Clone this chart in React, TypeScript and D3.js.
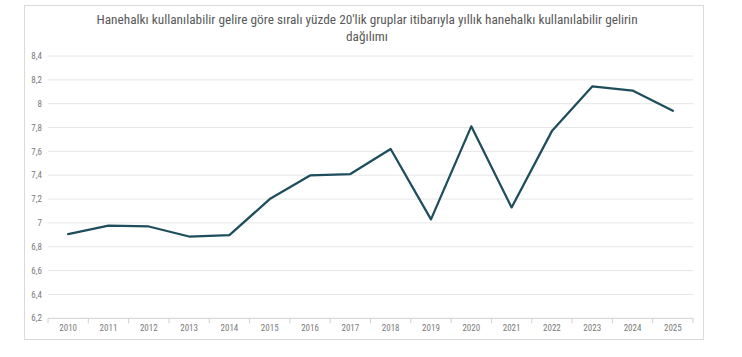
import React from "react";
import * as d3 from "d3";

const years = ["2010","2011","2012","2013","2014","2015","2016","2017","2018","2019","2020","2021","2022","2023","2024","2025"];
const values = [6.906, 6.978, 6.97, 6.886, 6.897, 7.2, 7.398, 7.41, 7.62, 7.03, 7.81, 7.13, 7.77, 8.145, 8.11, 7.94];
const yTicks = [6.2, 6.4, 6.6, 6.8, 7, 7.2, 7.4, 7.6, 7.8, 8, 8.2, 8.4];
const titleLines = [
  "Hanehalkı kullanılabilir gelire göre sıralı yüzde 20'lik gruplar itibarıyla yıllık hanehalkı kullanılabilir gelirin",
  "dağılımı",
];

const W = 742, H = 357;
const left = 48, right = 693, top = 56, bottom = 318.3;
const font = "'Liberation Sans Narrow', 'Roboto Condensed', Roboto, 'Noto Sans', sans-serif";

export default function App() {
  const x = d3.scaleBand<string>().domain(years).range([left, right]);
  const y = d3.scaleLinear().domain([6.2, 8.4]).range([bottom, top]);
  const line = d3.line<number>()
    .x((_, i) => (x(years[i]) as number) + x.bandwidth() / 2)
    .y((d) => y(d));
  const fmt = (v: number) => String(+v.toFixed(1)).replace(".", ",");
  const boundaries = years.map((yr) => x(yr) as number).concat([right]);
  return (
    <svg width={W} height={H} style={{ position: "absolute", left: 0, top: 0, background: "#fff" }}>
      <rect x={24.5} y={5.5} width={679} height={334} fill="#fff" stroke="#d9d9d9" strokeWidth={1} />
      {titleLines.map((t, i) => (
        <text key={i} x={367} y={24 + i * 17} textAnchor="middle" fontFamily={font} fontSize={13.3} fill="#595959">{t}</text>
      ))}
      {yTicks.map((v) => (
        <g key={v}>
          <line x1={left} x2={right} y1={y(v)} y2={y(v)} stroke={v === 6.2 ? "#d0d0d0" : "#e6e6e6"} strokeWidth={1} />
          <text x={42} y={y(v)} dy="0.35em" textAnchor="end" fontFamily={font} fontSize={9} fill="#7a7a7a">{fmt(v)}</text>
        </g>
      ))}
      {boundaries.map((bx, i) => (
        <line key={i} x1={bx} x2={bx} y1={bottom} y2={bottom + 5} stroke="#d0d0d0" strokeWidth={1} />
      ))}
      {years.map((yr) => (
        <text key={yr} x={(x(yr) as number) + x.bandwidth() / 2} y={331} textAnchor="middle" fontFamily={font} fontSize={9} fill="#7a7a7a">{yr}</text>
      ))}
      <path d={line(values) || ""} fill="none" stroke="#1e4d5c" strokeWidth={2.25} strokeLinejoin="round" strokeLinecap="round" />
    </svg>
  );
}
